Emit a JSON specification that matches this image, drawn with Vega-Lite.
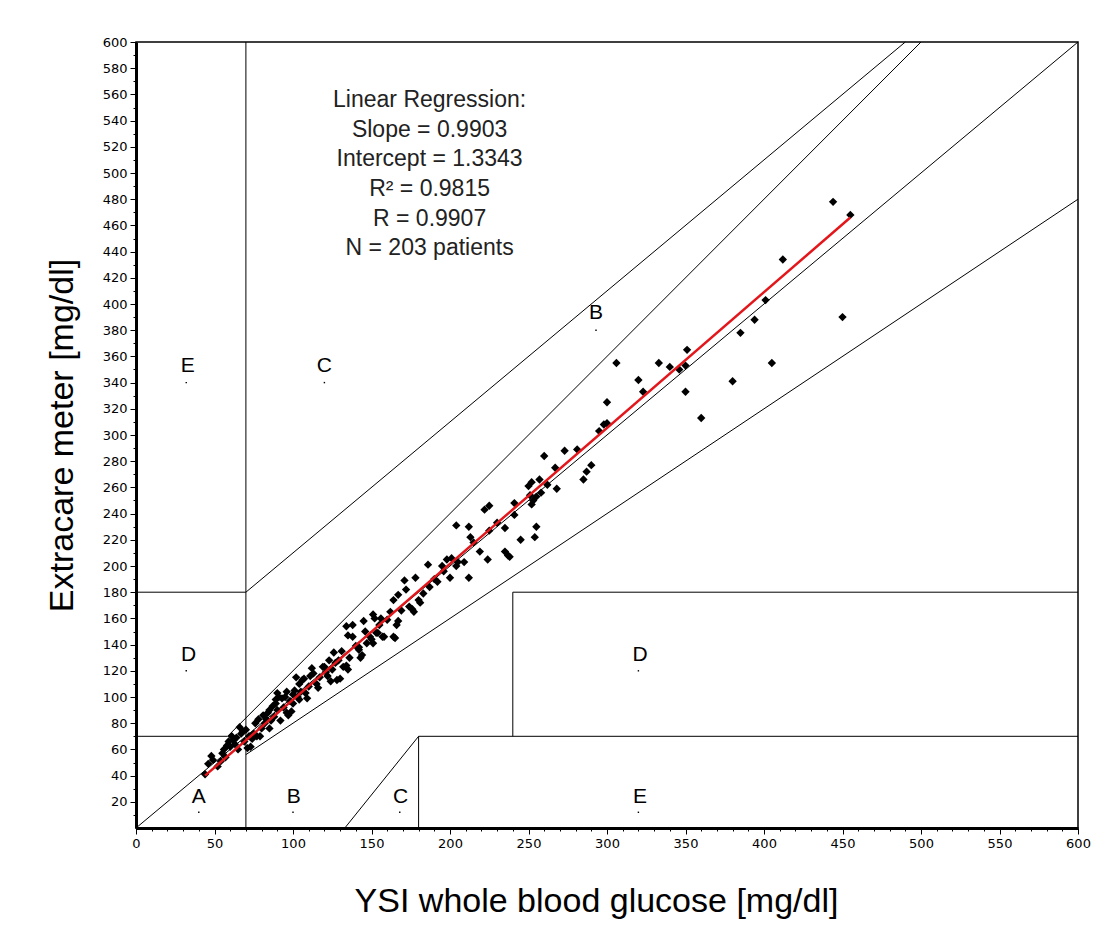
{
  "$schema": "https://vega.github.io/schema/vega-lite/v6.json",
  "width": 942,
  "height": 786,
  "autosize": {"type": "none"},
  "padding": {"left": 136, "top": 42, "right": 39, "bottom": 104},
  "background": "white",
  "config": {"view": {"stroke": "black", "strokeWidth": 1.5}, "font": "Liberation Sans"},
  "resolve": {"axis": {"x": "independent", "y": "independent"}},
  "datasets": {
    "grid": [
      {"x": 0, "y": 0, "xe": 600, "ye": 600},
      {"x": 0, "y": 70, "xe": 58.33, "ye": 70},
      {"x": 58.33, "y": 70, "xe": 500, "ye": 600},
      {"x": 70, "y": 0, "xe": 70, "ye": 600},
      {"x": 0, "y": 180, "xe": 70, "ye": 180},
      {"x": 70, "y": 180, "xe": 490, "ye": 600},
      {"x": 70, "y": 56, "xe": 600, "ye": 480},
      {"x": 133, "y": 0, "xe": 180, "ye": 70},
      {"x": 180, "y": 0, "xe": 180, "ye": 70},
      {"x": 180, "y": 70, "xe": 600, "ye": 70},
      {"x": 240, "y": 70, "xe": 240, "ye": 180},
      {"x": 240, "y": 180, "xe": 600, "ye": 180}
    ],
    "fit": [{"x": 44, "y": 40}, {"x": 455, "y": 466}],
    "points": [
      {"x":44,"y":41},{"x":46,"y":49},{"x":48,"y":55},{"x":49,"y":52},{"x":52,"y":47},{"x":54,"y":51},{"x":55,"y":57},{"x":56,"y":60},{"x":57,"y":54},{"x":58,"y":63},{"x":59,"y":66},{"x":60,"y":62},{"x":61,"y":70},{"x":62,"y":67},{"x":63,"y":64},{"x":64,"y":69},{"x":65,"y":60},{"x":66,"y":77},{"x":67,"y":72},{"x":68,"y":74},{"x":69,"y":66},{"x":70,"y":75},{"x":71,"y":61},{"x":72,"y":70},{"x":73,"y":62},{"x":74,"y":68},{"x":75,"y":72},{"x":76,"y":80},{"x":77,"y":70},{"x":78,"y":83},{"x":79,"y":70},{"x":80,"y":76},{"x":81,"y":86},{"x":82,"y":80},{"x":83,"y":83},{"x":84,"y":88},{"x":85,"y":76},{"x":85,"y":90},{"x":86,"y":82},{"x":87,"y":93},{"x":88,"y":85},{"x":89,"y":95},{"x":89,"y":98},{"x":90,"y":103},{"x":90,"y":90},{"x":91,"y":100},{"x":92,"y":82},{"x":93,"y":99},{"x":94,"y":92},{"x":95,"y":100},{"x":96,"y":104},{"x":96,"y":88},{"x":97,"y":86},{"x":98,"y":97},{"x":99,"y":89},{"x":100,"y":95},{"x":100,"y":102},{"x":101,"y":105},{"x":102,"y":115},{"x":103,"y":100},{"x":104,"y":110},{"x":104,"y":98},{"x":105,"y":104},{"x":106,"y":113},{"x":107,"y":114},{"x":108,"y":103},{"x":109,"y":99},{"x":110,"y":108},{"x":111,"y":116},{"x":112,"y":122},{"x":113,"y":118},{"x":115,"y":110},{"x":116,"y":107},{"x":117,"y":115},
      {"x":119,"y":123},{"x":120,"y":123},{"x":121,"y":119},{"x":122,"y":116},{"x":123,"y":128},{"x":124,"y":112},{"x":125,"y":121},{"x":126,"y":134},{"x":127,"y":126},{"x":128,"y":113},{"x":129,"y":128},{"x":130,"y":114},{"x":131,"y":135},{"x":132,"y":123},{"x":134,"y":124},{"x":134,"y":154},{"x":135,"y":121},{"x":135,"y":147},{"x":136,"y":130},{"x":138,"y":155},{"x":138,"y":146},{"x":140,"y":139},{"x":142,"y":136},{"x":142,"y":138},{"x":143,"y":130},{"x":144,"y":132},{"x":145,"y":158},{"x":146,"y":150},{"x":147,"y":141},{"x":149,"y":146},{"x":150,"y":144},{"x":151,"y":141},{"x":151,"y":163},{"x":152,"y":160},{"x":153,"y":149},{"x":154,"y":149},{"x":155,"y":155},{"x":156,"y":160},{"x":157,"y":146},{"x":158,"y":146},{"x":160,"y":159},{"x":162,"y":165},{"x":164,"y":146},{"x":164,"y":174},{"x":165,"y":145},{"x":166,"y":155},{"x":167,"y":158},{"x":167,"y":178},{"x":169,"y":166},{"x":171,"y":189},{"x":172,"y":182},{"x":174,"y":169},{"x":176,"y":167},{"x":177,"y":165},{"x":178,"y":191},{"x":180,"y":174},{"x":181,"y":172},{"x":183,"y":179},{"x":186,"y":201},{"x":187,"y":184},{"x":190,"y":190},{"x":192,"y":188},{"x":195,"y":200},{"x":196,"y":196},{"x":198,"y":205},{"x":200,"y":191},{"x":201,"y":206},
      {"x":204,"y":200},{"x":204,"y":231},{"x":205,"y":203},{"x":209,"y":203},{"x":212,"y":230},{"x":212,"y":191},{"x":213,"y":222},{"x":215,"y":218},{"x":219,"y":211},{"x":222,"y":243},{"x":224,"y":205},{"x":225,"y":246},{"x":225,"y":227},{"x":230,"y":233},{"x":235,"y":229},{"x":235,"y":211},{"x":237,"y":208},{"x":238,"y":207},{"x":241,"y":239},{"x":241,"y":248},{"x":245,"y":220},{"x":250,"y":261},{"x":251,"y":254},{"x":252,"y":264},{"x":252,"y":247},{"x":253,"y":250},{"x":254,"y":222},{"x":255,"y":230},{"x":255,"y":253},{"x":257,"y":266},{"x":258,"y":256},{"x":260,"y":284},{"x":262,"y":262},{"x":267,"y":275},{"x":268,"y":259},{"x":273,"y":288},{"x":281,"y":289},{"x":285,"y":266},{"x":287,"y":272},{"x":290,"y":277},{"x":295,"y":303},{"x":298,"y":308},{"x":300,"y":325},{"x":300,"y":309},
      {"x":306,"y":355},{"x":320,"y":342},{"x":323,"y":333},{"x":333,"y":355},{"x":340,"y":352},{"x":346,"y":350},{"x":350,"y":353},{"x":350,"y":333},{"x":351,"y":365},{"x":360,"y":313},{"x":380,"y":341},{"x":385,"y":378},{"x":394,"y":388},{"x":401,"y":403},{"x":405,"y":355},{"x":412,"y":434},{"x":444,"y":478},{"x":450,"y":390},{"x":455,"y":468}
    ],
    "zones": [
      {"x": 40, "y": 23.5, "label": "A"},
      {"x": 100.5, "y": 23.5, "label": "B"},
      {"x": 168.5, "y": 23.5, "label": "C"},
      {"x": 321, "y": 23.5, "label": "E"},
      {"x": 33.5, "y": 132, "label": "D"},
      {"x": 321, "y": 132, "label": "D"},
      {"x": 33, "y": 353, "label": "E"},
      {"x": 120, "y": 353, "label": "C"},
      {"x": 293, "y": 393, "label": "B"}
    ],
    "zonedots": [
      {"x": 40, "y": 12}, {"x": 100, "y": 12}, {"x": 168, "y": 12}, {"x": 320, "y": 12},
      {"x": 32, "y": 120}, {"x": 320, "y": 120}, {"x": 32, "y": 340}, {"x": 120, "y": 340}, {"x": 293, "y": 380}
    ],
    "stats": [
      {"x": 187, "y": 550.4, "label": "Linear Regression:\nSlope = 0.9903\nIntercept = 1.3343\nR² = 0.9815\nR = 0.9907\nN = 203 patients"}
    ]
  },
  "layer": [
    {
      "data": {"name": "grid"},
      "mark": {"type": "rule", "color": "black", "strokeWidth": 1},
      "encoding": {
        "x": {
          "field": "x", "type": "quantitative",
          "scale": {"domain": [0, 600], "nice": false, "zero": false},
          "axis": {
            "orient": "bottom",
            "title": "YSI whole blood glucose [mg/dl]",
            "values": [0,50,100,150,200,250,300,350,400,450,500,550,600],
            "tickSize": 6,
            "grid": false,
            "domainColor": "black", "domainWidth": 3,
            "tickColor": "black", "tickWidth": 1,
            "labelColor": "black", "labelFont": "DejaVu Sans", "labelFontSize": 13, "labelPadding": 3,
            "labelOverlap": false, "labelFlush": false,
            "titleFont": "Liberation Sans", "titleFontSize": 34, "titleFontWeight": "normal", "titleColor": "black",
            "titleBaseline": "alphabetic", "titleY": 83, "titleX": 460, "titleAlign": "center"
          }
        },
        "y": {
          "field": "y", "type": "quantitative",
          "scale": {"domain": [0, 600], "nice": false, "zero": false},
          "axis": {
            "orient": "left",
            "title": "Extracare meter [mg/dl]",
            "values": [20,40,60,80,100,120,140,160,180,200,220,240,260,280,300,320,340,360,380,400,420,440,460,480,500,520,540,560,580,600],
            "tickSize": 6,
            "grid": false,
            "domainColor": "black", "domainWidth": 3,
            "tickColor": "black", "tickWidth": 1,
            "labelColor": "black", "labelFont": "DejaVu Sans", "labelFontSize": 13, "labelPadding": 3,
            "labelOverlap": false, "labelFlush": false,
            "titleFont": "Liberation Sans", "titleFontSize": 34, "titleFontWeight": "normal", "titleColor": "black",
            "titleBaseline": "alphabetic", "titleX": -64, "titleAlign": "center"
          }
        },
        "x2": {"field": "xe"},
        "y2": {"field": "ye"}
      }
    },
    {
      "data": {"name": "points"},
      "mark": {"type": "point", "shape": "diamond", "filled": true, "color": "black", "size": 70, "opacity": 1},
      "encoding": {
        "x": {
          "field": "x", "type": "quantitative",
          "axis": {
            "orient": "bottom", "title": null, "labels": false, "domain": false, "grid": false,
            "values": [10,20,30,40,60,70,80,90,110,120,130,140,160,170,180,190,210,220,230,240,260,270,280,290,310,320,330,340,360,370,380,390,410,420,430,440,460,470,480,490,510,520,530,540,560,570,580,590],
            "tickSize": 3, "tickColor": "black", "tickWidth": 1
          }
        },
        "y": {
          "field": "y", "type": "quantitative",
          "axis": {
            "orient": "left", "title": null, "labels": false, "domain": false, "grid": false,
            "values": [10,30,50,70,90,110,130,150,170,190,210,230,250,270,290,310,330,350,370,390,410,430,450,470,490,510,530,550,570,590],
            "tickSize": 3, "tickColor": "black", "tickWidth": 1
          }
        }
      }
    },
    {
      "data": {"name": "fit"},
      "mark": {"type": "line", "color": "#e3161b", "strokeWidth": 2.5},
      "encoding": {
        "x": {"field": "x", "type": "quantitative", "axis": null},
        "y": {"field": "y", "type": "quantitative", "axis": null}
      }
    },
    {
      "data": {"name": "zonedots"},
      "mark": {"type": "point", "shape": "square", "filled": true, "color": "black", "size": 2, "opacity": 1},
      "encoding": {
        "x": {"field": "x", "type": "quantitative", "axis": null},
        "y": {"field": "y", "type": "quantitative", "axis": null}
      }
    },
    {
      "data": {"name": "zones"},
      "mark": {"type": "text", "font": "Liberation Sans", "fontSize": 21, "color": "black", "align": "center", "baseline": "middle"},
      "encoding": {
        "x": {"field": "x", "type": "quantitative", "axis": null},
        "y": {"field": "y", "type": "quantitative", "axis": null},
        "text": {"field": "label"}
      }
    },
    {
      "data": {"name": "stats"},
      "mark": {"type": "text", "font": "Liberation Sans", "fontSize": 23, "color": "#222222", "align": "center", "baseline": "alphabetic", "lineBreak": "\n", "lineHeight": 29.7},
      "encoding": {
        "x": {"field": "x", "type": "quantitative", "axis": null},
        "y": {"field": "y", "type": "quantitative", "axis": null},
        "text": {"field": "label"}
      }
    }
  ]
}
